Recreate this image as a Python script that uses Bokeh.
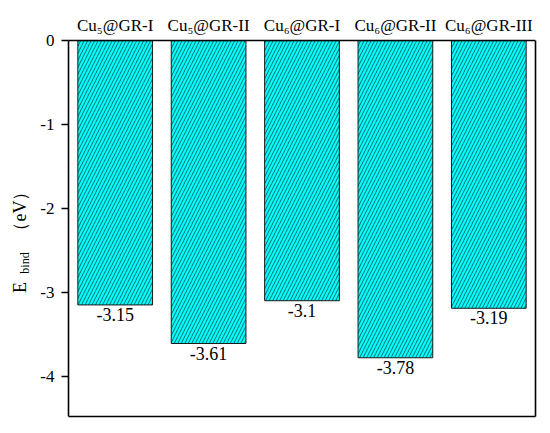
from bokeh.plotting import figure
from bokeh.models import Range1d, LinearAxis, FixedTicker, ColumnDataSource
from bokeh.core.properties import value
from bokeh.embed import file_html
from bokeh.resources import INLINE

categories = ["Cu\u2085@GR-I", "Cu\u2085@GR-II", "Cu\u2086@GR-I", "Cu\u2086@GR-II", "Cu\u2086@GR-III"]
ebind = [-3.15, -3.61, -3.10, -3.78, -3.19]
value_labels = ["-3.15", "-3.61", "-3.1", "-3.78", "-3.19"]
y_ticks = [0, -1, -2, -3, -4]
y_tick_labels = ["0", "-1", "-2", "-3", "-4"]
y_title = ["E", "bind", "\uff08eV\uff09"]

FONT = "Liberation Serif"
xs = list(range(1, len(categories) + 1))
src = ColumnDataSource(dict(x=xs, top=[0] * len(xs), bottom=ebind, lab=value_labels))

# The frame covers the margins so that titles/labels are not clipped;
# the visible box (x 0.5..5.5, y -4.48..0) is drawn by axes with bounds.
X0, X1 = 0.5, 5.5
Y0, Y1 = -4.48, 0.0
p = figure(width=545, height=430, output_backend="svg", toolbar_location=None,
           x_range=Range1d(X0 - 68 / 93.4, X1), y_range=Range1d(Y0, 0.3),
           x_axis_location=None, y_axis_location=None,
           min_border_left=0, min_border_right=10, min_border_top=15, min_border_bottom=14)
p.grid.visible = False
p.outline_line_color = None
p.background_fill_color = "white"
p.border_fill_color = "white"

p.vbar(x="x", top="top", bottom="bottom", width=0.8, source=src,
       fill_color="#00FFFF", line_color="#1a1a1a", line_width=1,
       hatch_pattern="/", hatch_color="#0d2b2b", hatch_scale=7, hatch_weight=0.7)

p.text(x="x", y="bottom", text="lab", source=src, text_align="center", text_baseline="top",
       y_offset=3, text_font=value(FONT), text_font_size="18px", text_color="black")

ya = LinearAxis(ticker=FixedTicker(ticks=y_ticks), fixed_location=X0, bounds=(Y0, Y1),
                major_label_overrides={t: s for t, s in zip(y_ticks, y_tick_labels)})
ya.minor_tick_line_color = None
ya.major_tick_in = 0
ya.major_tick_out = 7
ya.major_tick_line_width = 1.5
ya.axis_line_width = 1.6
ya.major_label_standoff = 7
ya.major_label_text_font = FONT
ya.major_label_text_font_size = "17px"
ya.major_label_text_color = "black"
p.add_layout(ya, "left")


def title_piece(text, center, size, standoff):
    # an invisible axis whose (rotated) axis label is one piece of the y title
    ax = LinearAxis(ticker=FixedTicker(ticks=[]), fixed_location=X0,
                    bounds=(center - 0.05, center + 0.05), axis_label=text)
    ax.axis_line_color = None
    ax.major_tick_line_color = None
    ax.minor_tick_line_color = None
    ax.axis_label_standoff = standoff
    ax.axis_label_text_font = FONT
    ax.axis_label_text_font_style = "normal"
    ax.axis_label_text_font_size = size
    ax.axis_label_text_color = "black"
    p.add_layout(ax, "left")


title_piece(y_title[0], -2.94, "18px", 39)
title_piece(y_title[1], -2.649, "12px", 37)
title_piece(y_title[2], -2.03, "18px", 39)

top = LinearAxis(ticker=FixedTicker(ticks=xs), bounds=(X0, X1), fixed_location=Y1,
                 major_label_overrides={x: c for x, c in zip(xs, categories)})
top.axis_line_width = 1.6
top.major_tick_line_color = None
top.minor_tick_line_color = None
top.major_label_standoff = 0
top.major_label_text_font = FONT
top.major_label_text_font_size = "17px"
top.major_label_text_color = "black"
p.add_layout(top, "above")

bottom = LinearAxis(ticker=FixedTicker(ticks=[]), bounds=(X0, X1))
bottom.axis_line_width = 1.6
bottom.major_tick_line_color = None
bottom.minor_tick_line_color = None
p.add_layout(bottom, "below")

right = LinearAxis(ticker=FixedTicker(ticks=[]), bounds=(Y0, Y1))
right.axis_line_width = 1.6
right.major_tick_line_color = None
right.minor_tick_line_color = None
p.add_layout(right, "right")

open("out.html", "w").write(file_html(p, INLINE))
